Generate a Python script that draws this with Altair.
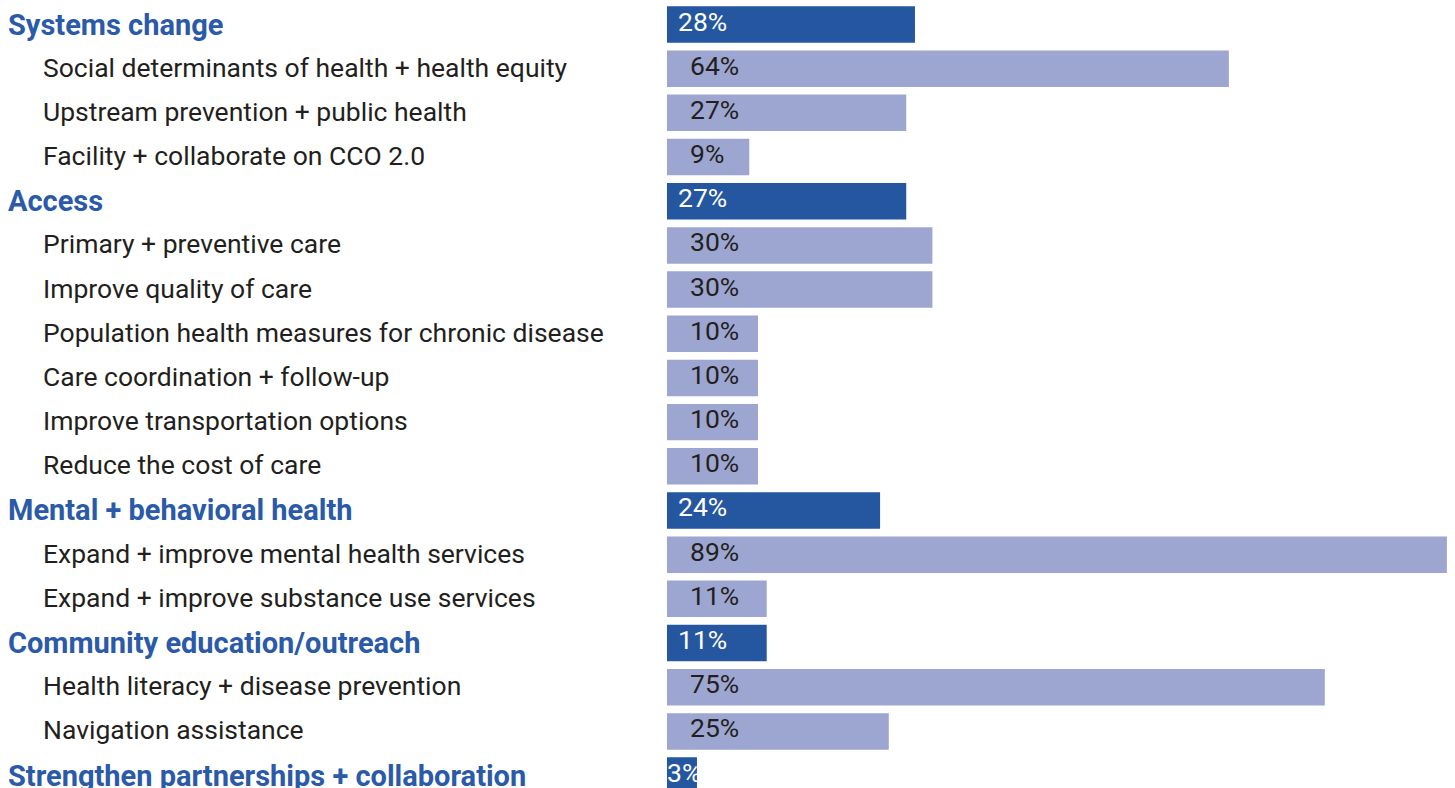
import altair as alt
import pandas as pd

# Priority areas (group headers) and their sub-topics, top to bottom
labels = [
    "Systems change",
    "Social determinants of health + health equity",
    "Upstream prevention + public health",
    "Facility + collaborate on CCO 2.0",
    "Access",
    "Primary + preventive care",
    "Improve quality of care",
    "Population health measures for chronic disease",
    "Care coordination + follow-up",
    "Improve transportation options",
    "Reduce the cost of care",
    "Mental + behavioral health",
    "Expand + improve mental health services",
    "Expand + improve substance use services",
    "Community education/outreach",
    "Health literacy + disease prevention",
    "Navigation assistance",
    "Strengthen partnerships + collaboration",
]
levels = [
    "group", "sub", "sub", "sub",
    "group", "sub", "sub", "sub", "sub", "sub", "sub",
    "group", "sub", "sub",
    "group", "sub", "sub",
    "group",
]
percents = [28, 64, 27, 9, 27, 30, 30, 10, 10, 10, 10, 24, 89, 11, 11, 75, 25, 3]

df = pd.DataFrame({
    "row": list(range(len(labels))),
    "label": labels,
    "level": levels,
    "pct": percents,
})
df["pct_text"] = df["pct"].astype(str) + "%"

DARK = "#2556a0"
LIGHT = "#9da6d0"
HEAD = "#2a5aa8"
INK = "#231f20"
FONT = "Roboto"

ROW_PX = 44.18
HALF = 0.413
PANEL_H = 788
y_dom = [-0.5546, -0.5546 + PANEL_H / ROW_PX]
y_scale = alt.Scale(domain=y_dom, reverse=True, nice=False, zero=False)

base = alt.Chart(df)

# Left column: category names
y_enc = alt.Y("row:Q", scale=y_scale, axis=None)
heads = base.transform_filter("datum.level == 'group'").mark_text(
    align="left", baseline="middle", font=FONT, fontSize=29, fontWeight="bold",
    color=HEAD, clip=True, dy=1,
).encode(x=alt.value(8), y=y_enc, text="label:N")
subs = base.transform_filter("datum.level == 'sub'").mark_text(
    align="left", baseline="middle", font=FONT, fontSize=26.5,
    color=INK, clip=True, dy=0,
).encode(x=alt.value(43), y=y_enc, text="label:N")
left = alt.layer(heads, subs).properties(width=667, height=PANEL_H)

# Right column: bars with percentage labels
PX_PER_PCT = 8.72
x_scale = alt.Scale(domain=[-3.8 / PX_PER_PCT, (788 - 3.8) / PX_PER_PCT], nice=False, zero=False)
bars = base.transform_calculate(
    y0="datum.row - %f" % HALF, y1="datum.row + %f" % HALF
).mark_bar(clip=True).encode(
    x=alt.X("pct:Q", scale=x_scale, axis=None),
    x2=alt.value(0),
    y=alt.Y("y0:Q", scale=y_scale, axis=None),
    y2="y1:Q",
    color=alt.Color(
        "level:N",
        scale=alt.Scale(domain=["group", "sub"], range=[DARK, LIGHT]),
        legend=None,
    ),
)
txt_args = dict(align="left", baseline="middle", font=FONT, fontSize=26.5, clip=True, dy=-2)
pct_group = base.transform_filter("datum.level == 'group' && datum.pct >= 5").mark_text(
    color="white", **txt_args
).encode(x=alt.value(11), y=y_enc, text="pct_text:N")
pct_small = base.transform_filter("datum.level == 'group' && datum.pct < 5").mark_text(
    color="white", **txt_args
).encode(x=alt.value(0), y=y_enc, text="pct_text:N")
pct_sub = base.transform_filter("datum.level == 'sub'").mark_text(
    color=INK, **txt_args
).encode(x=alt.value(23), y=y_enc, text="pct_text:N")
right = alt.layer(bars, pct_group, pct_small, pct_sub).properties(width=788, height=PANEL_H)

chart = alt.hconcat(left, right, spacing=0).properties(
    padding=0, background="white"
).configure_view(stroke=None).configure_concat(spacing=0)

chart.save("out.html", embed_options={"renderer": "svg", "actions": False})
